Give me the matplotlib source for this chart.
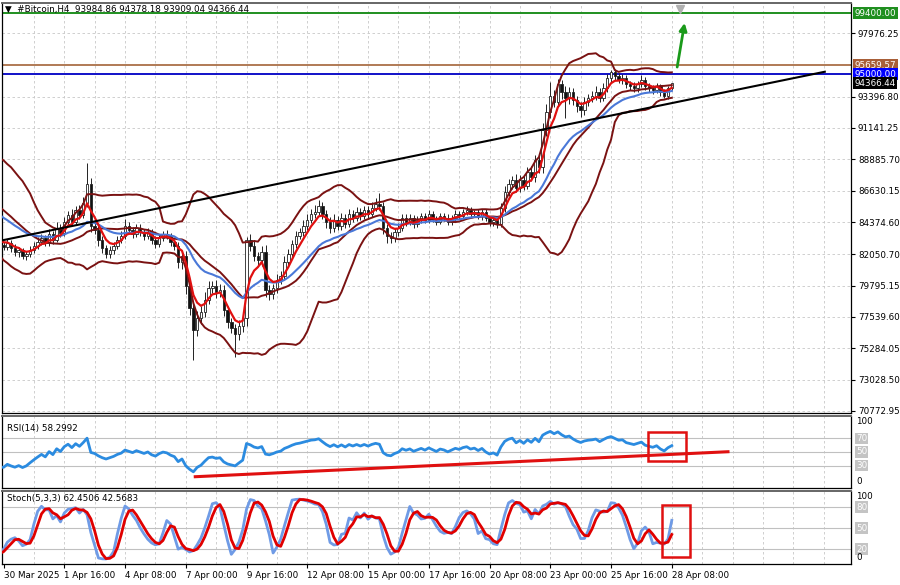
import numpy as np
import pandas as pd
import matplotlib
matplotlib.use("Agg")
import matplotlib.pyplot as plt
import matplotlib.transforms as mtransforms
from matplotlib.patches import Rectangle

plt.rcParams['font.family'] = ['DejaVu Sans']

# H4 bars before 30 Mar 00:00 (scrolled off to the left, only feed the indicators)
pre_open0 = 87300
pre_close = [87400, 87600, 87200, 87500, 87100, 86800, 87000, 86600, 86900, 86300,
             85600, 85200, 84400, 84100, 84300, 83800, 83300, 82900, 82500, 82700]
pre_up = [250, 300, 220, 350, 180, 260, 400, 210, 300, 150, 280, 320, 200, 260, 350, 190, 240, 310, 280, 230]
pre_dn = [230, 180, 300, 200, 260, 320, 150, 280, 220, 340, 300, 260, 380, 200, 250, 330, 280, 220, 350, 260]

# visible bars, 30 Mar 2025 00:00 .. 28 Apr 2025 08:00
close = [
    82576, 82864, 82504, 82216, 82360, 81928, 82072, 82360, 82648, 82936,
    83224, 82880, 83512, 83100, 83944, 83550, 84380, 84880, 84400, 85240,
    84850, 85744, 87110, 84100, 83800, 83080, 82504, 82072, 82360, 82648,
    83080, 83368, 84088, 83800, 83512, 83944, 83656, 83368, 83656, 83080,
    82792, 83224, 83512, 83368, 82936, 82648, 81496, 81900, 79800, 78200,
    76603, 77466, 77898, 78762, 79625, 79769, 79337, 79481, 78042, 77178,
    76747, 76315, 76891, 77466, 83080, 82648, 81928, 81640, 82216, 79481,
    79193, 79625, 80201, 80489, 81496, 82072, 82792, 83368, 83656, 84088,
    84520, 84951, 85095, 85527, 84951, 84376, 83944, 84520, 84088, 84663,
    84232, 84951, 84663, 85095, 84807, 85239, 84951, 85383, 85671, 85527,
    83944, 83368, 83224, 83656, 83944, 84663, 84376, 84663, 84232, 84520,
    84807, 84520, 84951, 84663, 84376, 84807, 84663, 84376, 84663, 84951,
    84807, 85095, 85239, 84951, 85095, 84807, 85095, 84663, 84376, 84520,
    84232, 85383, 86535, 87110, 87398, 86800, 87398, 87000, 87974, 87600,
    88837, 88300, 90992, 92287, 93444, 93000, 94308, 93732, 93301, 93732,
    93156, 92724, 92436, 93012, 93301, 93444, 93732, 93301, 94020, 94739,
    95171, 94883, 94595, 94739, 94308, 94164, 94020, 94308, 94595, 94164,
    94020, 93876, 94164, 93732, 93444, 93984.86, 94366.44]

up_wick = [
    220, 310, 180, 260, 200, 150, 240, 300, 280, 350,
    260, 200, 380, 240, 420, 300, 350, 260, 400, 320,
    380, 450, 1500, 400, 350, 300, 280, 220, 260, 300,
    320, 360, 500, 280, 240, 300, 260, 220, 280, 200,
    260, 300, 240, 280, 200, 250, 300, 350, 400, 450,
    380, 500, 420, 600, 500, 380, 450, 400, 350, 300,
    280, 320, 400, 500, 220, 450, 380, 300, 420, 500,
    350, 300, 400, 380, 420, 350, 300, 380, 320, 400,
    450, 380, 500, 420, 300, 260, 350, 400, 300, 380,
    280, 350, 300, 380, 260, 320, 300, 400, 450, 789,
    300, 260, 320, 280, 350, 300, 260, 320, 220, 280,
    240, 200, 260, 220, 180, 240, 200, 260, 220, 280,
    200, 240, 260, 220, 180, 250, 200, 220, 180, 160,
    200, 380, 450, 350, 300, 400, 380, 320, 350, 400,
    380, 450, 500, 600, 1006, 450, 350, 300, 400, 350,
    300, 260, 320, 380, 300, 350, 400, 300, 380, 320,
    144, 250, 200, 280, 220, 200, 260, 220, 360, 200,
    180, 220, 200, 160, 200, 180, 11.74]

dn_wick = [
    250, 200, 300, 280, 350, 220, 260, 200, 240, 180,
    220, 260, 200, 300, 180, 240, 200, 260, 220, 200,
    240, 180, 300, 450, 300, 400, 350, 300, 260, 280,
    240, 220, 200, 260, 300, 240, 280, 260, 220, 300,
    260, 220, 240, 200, 280, 260, 400, 500, 600, 500,
    2163, 450, 400, 350, 300, 380, 420, 360, 450, 400,
    380, 1655, 450, 400, 600, 380, 350, 420, 400, 500,
    450, 380, 350, 300, 280, 320, 260, 300, 240, 280,
    260, 220, 300, 240, 350, 400, 380, 300, 320, 280,
    300, 240, 260, 220, 280, 240, 260, 220, 200, 260,
    400, 500, 380, 300, 260, 220, 280, 240, 260, 220,
    200, 240, 220, 260, 200, 180, 220, 240, 200, 180,
    220, 200, 180, 240, 200, 220, 260, 240, 300, 260,
    280, 240, 300, 260, 350, 300, 280, 320, 260, 300,
    350, 400, 380, 450, 400, 350, 300, 500, 1440, 400,
    380, 450, 500, 350, 300, 260, 280, 320, 240, 280,
    300, 260, 240, 280, 300, 260, 320, 280, 240, 300,
    260, 280, 240, 320, 144, 220, 75.82]

date_labels = ['30 Mar 2025', '1 Apr 16:00', '4 Apr 08:00', '7 Apr 00:00', '9 Apr 16:00',
               '12 Apr 08:00', '15 Apr 00:00', '17 Apr 16:00', '20 Apr 08:00',
               '23 Apr 00:00', '25 Apr 16:00', '28 Apr 08:00']
price_ticks = [97976.25, 93396.80, 91141.25, 88885.70, 86630.15, 84374.60,
               82050.70, 79795.15, 77539.60, 75284.05, 73028.50, 70772.95]

# horizontal levels drawn on the chart: (price, line colour, tag colour)
levels = [(99400.00, '#1f8f1f', '#1f8f1f'),
          (95659.57, '#b07a55', '#a85f38'),
          (95000.00, '#1010c8', '#0000ff')]
trend_main = [(-0.8, 83030), (216.3, 95190)]
arrow_pts = [(177.3, 95330), (179.5, 98900)]
trend_rsi = [(50.5, 13.4), (190.8, 50.4)]
box_rsi = (169.7, 36.7, 10.0, 42.9)
box_sto = (173.4, 8.6, 7.4, 74.3)

assert len(close) == len(up_wick) == len(dn_wick) == 177

n_pre = len(pre_close)
c = np.array(pre_close + close, dtype=float)
o = np.r_[pre_open0, c[:-1]]
hi = np.maximum(o, c) + np.array(pre_up + up_wick, dtype=float)
lo = np.minimum(o, c) - np.array(pre_dn + dn_wick, dtype=float)
x = np.arange(len(c)) - n_pre
s = pd.Series(c)

bb_mid = s.rolling(20).mean()
bb_sd = s.rolling(20).std(ddof=0)
bb_up = bb_mid + 2 * bb_sd
bb_lo = bb_mid - 2 * bb_sd
ma_blue = s.ewm(span=20, adjust=False).mean()
ma_red = s.ewm(span=5, adjust=False).mean()

d = s.diff()
gain = d.clip(lower=0).ewm(alpha=1 / 14, adjust=False).mean()
loss = (-d.clip(upper=0)).ewm(alpha=1 / 14, adjust=False).mean()
rsi = 100 - 100 / (1 + gain / loss)

hh = pd.Series(hi).rolling(5).max()
ll = pd.Series(lo).rolling(5).min()
k = (s - ll).rolling(3).sum() / (hh - ll).rolling(3).sum() * 100
sig = k.rolling(3).mean()

W, H = 900, 585
fig = plt.figure(figsize=(W / 100, H / 100), dpi=100)
fig.patch.set_facecolor('white')


def box(top, bottom):
    return [2 / W, 1 - bottom / H, 849 / W, (bottom - top) / H]


ax = fig.add_axes(box(3, 413))
ax_r = fig.add_axes(box(416, 488), sharex=ax)
ax_s = fig.add_axes(box(491, 564), sharex=ax)

XMIN, XMAX = -0.4, 223.2
grid_kw = dict(color='#c8c8c8', lw=0.6, ls=(0, (3, 3)), zorder=0)
for a in (ax, ax_r, ax_s):
    a.set_xlim(XMIN, XMAX)
    for gx in range(8, 224, 8):
        a.axvline(gx, **grid_kw)
    a.yaxis.tick_right()
    a.tick_params(axis='y', labelsize=6.3, length=3, pad=2, width=0.8)
    for sp in a.spines.values():
        sp.set_linewidth(0.9)
    a.spines['top'].set_color('#666666')
    a.spines['top'].set_linewidth(1.4)

# main price panel
ax.set_ylim(70629, 100137)
ax.set_yticks(price_ticks)
ax.set_yticklabels([f'{p:.2f}' for p in price_ticks])
for p in price_ticks:
    ax.axhline(p, **grid_kw)
ax.tick_params(axis='x', bottom=False, labelbottom=False)

for xi, oi, ci, hv, lv in zip(x, o, c, hi, lo):
    if xi < XMIN - 1:
        continue
    ax.vlines(xi, lv, hv, color='#222222', lw=0.7, zorder=3)
    bull = ci >= oi
    h = max(abs(ci - oi), 25)
    ax.add_patch(Rectangle((xi - 0.32, min(oi, ci)), 0.64, h,
                           fc='white' if bull else '#111111', ec='#222222', lw=0.6, zorder=4))

ax.plot(x, bb_up, color='#7a1212', lw=1.4, zorder=5)
ax.plot(x, bb_mid, color='#7a1212', lw=1.4, zorder=5)
ax.plot(x, bb_lo, color='#7a1212', lw=1.4, zorder=5)
ax.plot(x, ma_blue, color='#4a78d8', lw=1.5, zorder=6)
ax.plot(x, ma_red, color='#e01010', lw=1.6, zorder=7)

for lvl, lc, _ in levels:
    ax.axhline(lvl, color=lc, lw=1.4, zorder=2)
(tx0, ty0), (tx1, ty1) = trend_main
ax.plot([tx0, tx1], [ty0, ty1], color='black', lw=1.5, zorder=8)
ax.annotate('', xy=arrow_pts[1], xytext=arrow_pts[0],
            arrowprops=dict(arrowstyle='-|>', color='#1a9a1a', lw=2, mutation_scale=11), zorder=9)
ax.plot([178.2], [0.985], marker='v', color='#b0b0b0', ms=6,
        transform=mtransforms.blended_transform_factory(ax.transData, ax.transAxes), clip_on=False)

tr = mtransforms.blended_transform_factory(ax.transAxes, ax.transData)
tags = [(lvl, f'{lvl:.2f}', tc) for lvl, _, tc in levels] + [(close[-1], f'{close[-1]:.2f}', 'black')]
for val, txt, fc in tags:
    ax.text(1.004, val, txt, transform=tr, fontsize=6.3, color='white', va='center', ha='left',
            bbox=dict(boxstyle='square,pad=0.18', fc=fc, ec='none'), clip_on=False, zorder=10)

fig.text(5 / W, 1 - 9 / H, '\u25bc  #Bitcoin,H4  93984.86 94378.18 93909.04 94366.44',
         fontsize=6.3, va='center', ha='left')

# RSI panel
ax_r.set_ylim(-3.3, 103.3)
ax_r.set_yticks([])
for lv in (70, 50, 30):
    ax_r.axhline(lv, color='#c0c0c0', lw=0.8, zorder=1)
ax_r.plot(x, rsi, color='#2b8be0', lw=2.0, zorder=4)
(rx0, ry0), (rx1, ry1) = trend_rsi
ax_r.plot([rx0, rx1], [ry0, ry1], color='#e01010', lw=2.2, zorder=5)
ax_r.add_patch(Rectangle(box_rsi[:2], box_rsi[2], box_rsi[3], fill=False, ec='#e01010', lw=1.8, zorder=6))
ax_r.text(5 / 849, 0.82, 'RSI(14) 58.2992', transform=ax_r.transAxes, fontsize=6.3, va='center')
tr_r = mtransforms.blended_transform_factory(ax_r.transAxes, ax_r.transData)
for lv in (70, 50, 30):
    ax_r.text(1.006, lv, str(lv), transform=tr_r, fontsize=6.3, color='white', va='center',
              bbox=dict(boxstyle='square,pad=0.12', fc='#c4c4c4', ec='none'), clip_on=False)
ax_r.text(1.006, 0.92, '100', transform=ax_r.transAxes, fontsize=6.3, va='center', clip_on=False)
ax_r.text(1.006, 0.09, '0', transform=ax_r.transAxes, fontsize=6.3, va='center', clip_on=False)
ax_r.tick_params(axis='x', bottom=False, labelbottom=False)

# Stochastic panel
ax_s.set_ylim(-1.4, 102.9)
ax_s.set_yticks([])
for lv in (80, 50, 20):
    ax_s.axhline(lv, color='#c0c0c0', lw=0.8, zorder=1)
ax_s.plot(x, k, color='#6f9be6', lw=2.0, zorder=4)
ax_s.plot(x, sig, color='#e00000', lw=2.0, zorder=5)
ax_s.add_patch(Rectangle(box_sto[:2], box_sto[2], box_sto[3], fill=False, ec='#e01010', lw=1.8, zorder=6))
ax_s.text(5 / 849, 0.9, 'Stoch(5,3,3) 62.4506 42.5683', transform=ax_s.transAxes, fontsize=6.3, va='center')
tr_s = mtransforms.blended_transform_factory(ax_s.transAxes, ax_s.transData)
for lv in (80, 50, 20):
    ax_s.text(1.006, lv, str(lv), transform=tr_s, fontsize=6.3, color='white', va='center',
              bbox=dict(boxstyle='square,pad=0.12', fc='#c4c4c4', ec='none'), clip_on=False)
ax_s.text(1.006, 0.92, '100', transform=ax_s.transAxes, fontsize=6.3, va='center', clip_on=False)
ax_s.text(1.006, 0.09, '0', transform=ax_s.transAxes, fontsize=6.3, va='center', clip_on=False)

ax_s.set_xticks(np.arange(len(date_labels)) * 16)
ax_s.set_xticklabels(date_labels, ha='left', fontsize=6.3)
ax_s.tick_params(axis='x', length=3, pad=2, width=0.8)

fig.savefig('out.png', dpi=100)
